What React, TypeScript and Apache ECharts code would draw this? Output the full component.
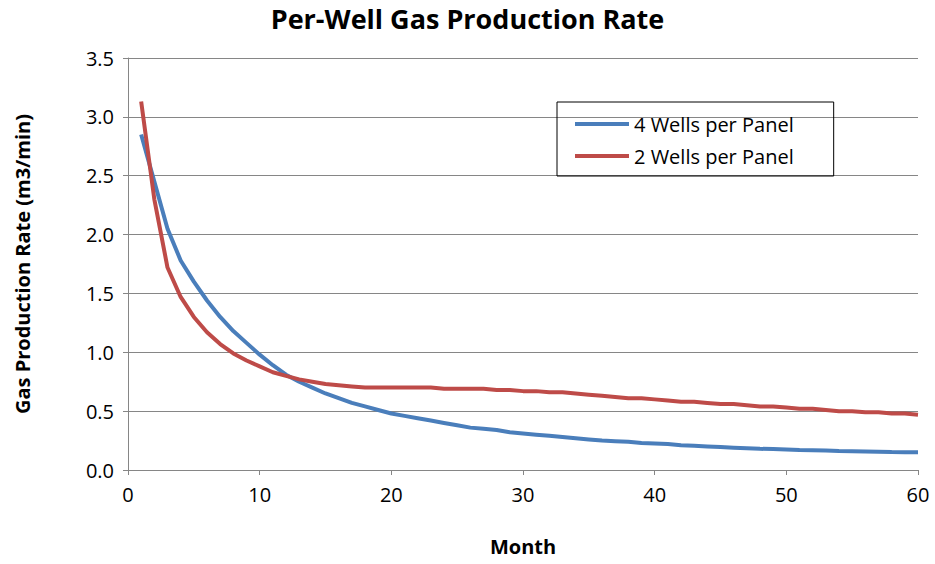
import * as echarts from "echarts";
import { useEffect, useRef } from "react";

const months = Array.from({ length: 60 }, (_, i) => i + 1);
const fourWells = [
  2.85, 2.45, 2.05, 1.78, 1.6, 1.44, 1.3, 1.18, 1.08, 0.98, 0.89, 0.81, 0.75, 0.7, 0.65, 0.61, 0.57, 0.54, 0.51, 0.48,
  0.46, 0.44, 0.42, 0.4, 0.38, 0.36, 0.35, 0.34, 0.32, 0.31, 0.3, 0.29, 0.28, 0.27, 0.26, 0.25, 0.245, 0.24, 0.23, 0.225,
  0.22, 0.21, 0.205, 0.2, 0.195, 0.19, 0.185, 0.18, 0.178, 0.175, 0.17, 0.168, 0.165, 0.162, 0.16, 0.158, 0.155, 0.152, 0.15, 0.15,
];
const twoWells = [
  3.13, 2.3, 1.72, 1.47, 1.3, 1.17, 1.07, 0.99, 0.93, 0.88, 0.83, 0.8, 0.77, 0.75, 0.73, 0.72, 0.71, 0.7, 0.7, 0.7,
  0.7, 0.7, 0.7, 0.69, 0.69, 0.69, 0.69, 0.68, 0.68, 0.67, 0.67, 0.66, 0.66, 0.65, 0.64, 0.63, 0.62, 0.61, 0.61, 0.6,
  0.59, 0.58, 0.58, 0.57, 0.56, 0.56, 0.55, 0.54, 0.54, 0.53, 0.52, 0.52, 0.51, 0.5, 0.5, 0.49, 0.49, 0.48, 0.48, 0.47,
];
const seriesNames = ["4 Wells per Panel", "2 Wells per Panel"];

const font = "'Open Sans', sans-serif";

export default function App() {
  const ref = useRef<HTMLDivElement>(null);
  useEffect(() => {
    document.body.style.margin = "0";
    const chart = echarts.init(ref.current, null, { renderer: "svg" });
    chart.setOption({
      animation: false,
      textStyle: { fontFamily: font },
      title: {
        text: "Per-Well Gas Production Rate",
        left: "center",
        top: 0,
        textStyle: { fontSize: 27, fontWeight: "bold", color: "#000", fontFamily: font },
      },
      legend: {
        orient: "vertical",
        left: 557,
        top: 102,
        padding: [12, 40, 10, 18],
        itemGap: 12,
        itemWidth: 54,
        itemHeight: 4,
        borderColor: "#000",
        borderWidth: 1,
        icon: "rect",
        textStyle: { fontSize: 20, color: "#000", fontFamily: font },
        data: seriesNames,
      },
      grid: { left: 128, right: 17, top: 58, bottom: 94 },
      xAxis: {
        type: "value",
        min: 0,
        max: 60,
        interval: 10,
        name: "Month",
        nameLocation: "middle",
        nameGap: 66,
        nameTextStyle: { fontSize: 20, fontWeight: "bold", color: "#000" },
        axisLine: { lineStyle: { color: "#868686" } },
        axisTick: { show: true, lineStyle: { color: "#868686" } },
        axisLabel: { fontSize: 20, color: "#000", margin: 14 },
        splitLine: { show: false },
      },
      yAxis: {
        type: "value",
        min: 0,
        max: 3.5,
        interval: 0.5,
        name: "Gas Production Rate (m3/min)",
        nameLocation: "middle",
        nameGap: 96,
        nameTextStyle: { fontSize: 20, fontWeight: "bold", color: "#000" },
        axisLine: { show: true, lineStyle: { color: "#868686" } },
        axisTick: { show: true, lineStyle: { color: "#868686" } },
        axisLabel: { fontSize: 20, color: "#000", margin: 14, formatter: (v: number) => v.toFixed(1) },
        splitLine: { lineStyle: { color: "#868686" } },
      },
      series: [
        {
          name: seriesNames[0],
          type: "line",
          showSymbol: false,
          color: "#4a7ebb",
          lineStyle: { width: 4 },
          data: months.map((m, i) => [m, fourWells[i]]),
        },
        {
          name: seriesNames[1],
          type: "line",
          showSymbol: false,
          color: "#be4b48",
          lineStyle: { width: 4 },
          data: months.map((m, i) => [m, twoWells[i]]),
        },
      ],
    });
    return () => chart.dispose();
  }, []);
  return <div ref={ref} style={{ width: 935, height: 564 }} />;
}
